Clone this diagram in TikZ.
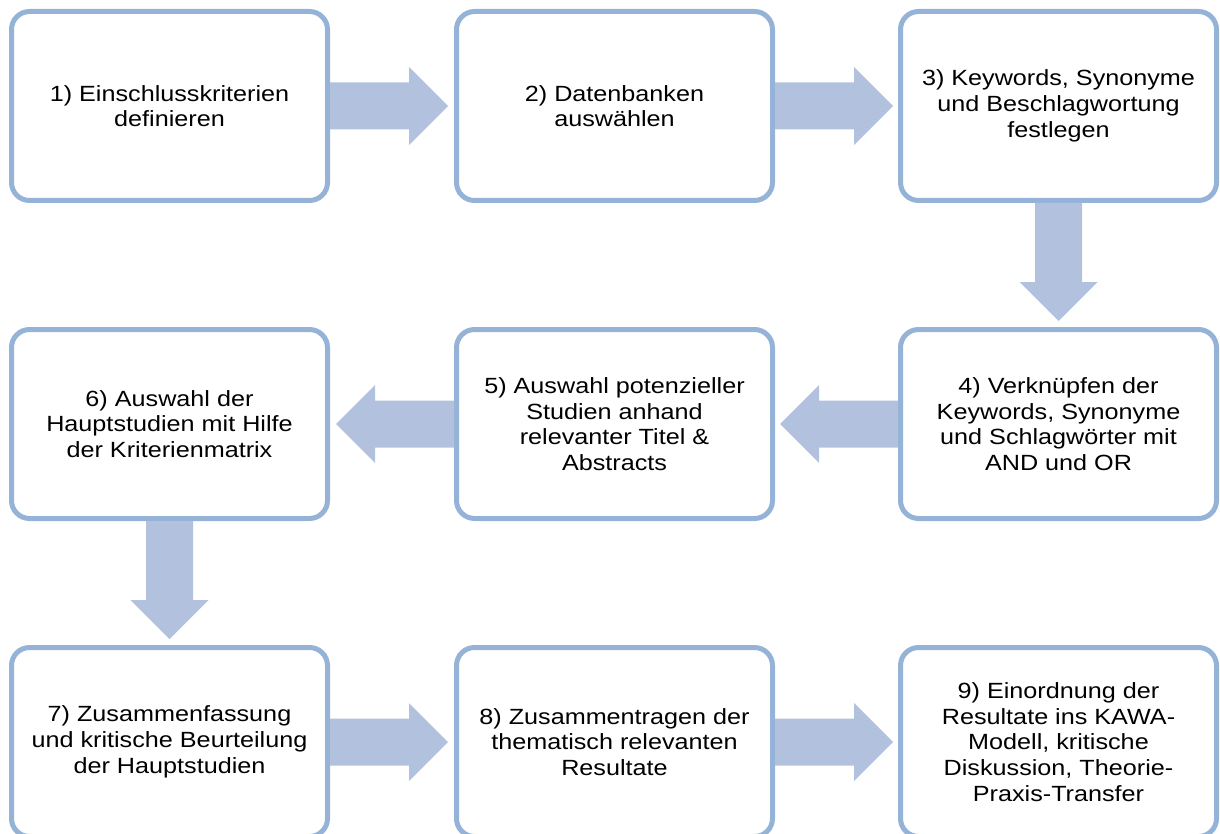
\documentclass[tikz,border=0pt]{standalone}
\usepackage{fontspec}
\newfontfamily\boxfont[FakeStretch=1.145]{Liberation Sans}
\usetikzlibrary{calc}
\definecolor{boxline}{RGB}{149,179,215}
\definecolor{arrowfill}{RGB}{178,194,222}
\tikzset{
  stepbox/.style={draw=boxline, line width=5pt, rounded corners=18pt, fill=white,
    minimum width=316pt, minimum height=189pt, inner sep=0pt, align=center,
    font=\boxfont\fontsize{22}{25.7}\selectfont, text=black},
  blockfill/.style={fill=arrowfill, draw=none}
}
\newcommand\blockarrow[2]{%
  \coordinate (s) at (#1);
  \coordinate (t) at ($(#1)!118pt!(#2)$);
  \coordinate (n) at ($(#1)!79pt!(#2)$);
  \fill[blockfill] ($(s)!23.5pt!90:(t)$) -- ($(n)!23.5pt!90:(t)$) -- ($(n)!39pt!90:(t)$)
    -- (t) -- ($(n)!39pt!-90:(t)$) -- ($(n)!23.5pt!-90:(t)$) -- ($(s)!23.5pt!-90:(t)$) -- cycle;
}
\begin{document}
\begin{tikzpicture}[x=1pt,y=-1pt]
\clip (0,0) rectangle (1220,834);
\node[stepbox] (b1) at (169.5,106) {1) Einschlusskriterien\\definieren};
\node[stepbox] (b2) at (614.5,106) {2) Datenbanken\\auswählen};
\node[stepbox] (b3) at (1058.5,106) {3) Keywords, Synonyme\\und Beschlagwortung\\festlegen};
\node[stepbox] (b4) at (1058.5,424) {4) Verknüpfen der\\Keywords, Synonyme\\und Schlagwörter mit\\AND und OR};
\node[stepbox] (b5) at (614.5,424) {5) Auswahl potenzieller\\Studien anhand\\relevanter Titel \&\\Abstracts};
\node[stepbox] (b6) at (169.5,424) {6) Auswahl der\\Hauptstudien mit Hilfe\\der Kriterienmatrix};
\node[stepbox] (b7) at (169.5,742) {7) Zusammenfassung\\und kritische Beurteilung\\der Hauptstudien};
\node[stepbox] (b8) at (614.5,742) {8) Zusammentragen der\\thematisch relevanten\\Resultate};
\node[stepbox] (b9) at (1058.5,742) {9) Einordnung der\\Resultate ins KAWA-\\Modell, kritische\\Diskussion, Theorie-\\Praxis-Transfer};
\blockarrow{b1.east}{b2.west}
\blockarrow{b2.east}{b3.west}
\blockarrow{b3.south}{b4.north}
\blockarrow{b4.west}{b5.east}
\blockarrow{b5.west}{b6.east}
\blockarrow{b6.south}{b7.north}
\blockarrow{b7.east}{b8.west}
\blockarrow{b8.east}{b9.west}
\end{tikzpicture}
\end{document}
